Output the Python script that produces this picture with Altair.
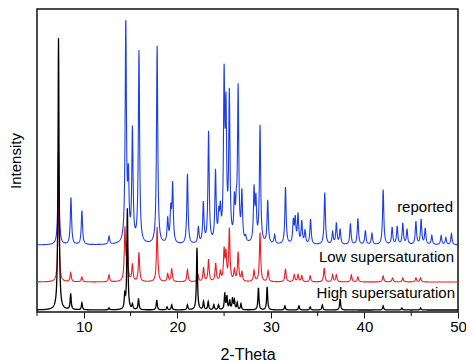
import altair as alt
import numpy as np
import pandas as pd

# Peak positions (2-theta, deg) and heights (arbitrary units)
reported_pos = [7.3, 8.63, 9.8, 12.7, 14.49, 14.77, 15.2, 15.9, 17.84, 18.97, 19.3, 19.5,
                21.08, 22.25, 22.78, 23.34, 24.08, 24.43, 24.6, 25.0, 25.2, 25.56, 26.1, 26.3,
                26.5, 26.9, 27.3, 28.2, 28.4, 28.84, 29.66, 30.4, 31.56, 32.4, 32.6, 32.9,
                33.3, 33.65, 34.24, 35.76, 36.6, 37.0, 37.4, 38.5, 39.3, 40.1, 40.8, 42.0,
                42.96, 43.5, 44.1, 44.55, 45.5, 46.06, 46.5, 47.2, 48.2, 48.7, 49.3]
reported_h = [95, 47, 34, 8, 221, 60, 112, 192, 198, 24, 32, 58,
              70, 16, 40, 111, 70, 24, 28, 158, 122, 145, 38, 26,
              152, 48, 5, 52, 40, 117, 43, 9, 57, 22, 24, 29,
              22, 13, 25, 52, 12, 21, 15, 21, 26, 14, 11, 55,
              17, 18, 21, 15, 23, 25, 16, 9, 9, 7, 11]

low_pos = [7.3, 8.6, 9.8, 12.7, 14.4, 14.65, 15.2, 15.9, 17.84, 18.97, 19.4, 21.08,
           22.2, 22.8, 23.34, 24.1, 24.6, 25.0, 25.2, 25.56, 26.1, 26.5, 26.9, 28.2,
           28.84, 29.7, 31.56, 32.5, 32.9, 33.3, 34.2, 35.7, 36.6, 37.0, 38.6, 39.3,
           42.0, 43.0, 44.1, 45.5, 46.0]
low_h = [90, 9, 5, 7, 52, 36, 17, 29, 55, 8, 13, 12,
         7, 14, 22, 18, 9, 30, 26, 52, 11, 29, 9, 11,
         49, 11, 13, 7, 7, 6, 6, 14, 7, 7, 7, 5,
         6, 4, 4, 4, 4]

high_pos = [7.3, 8.6, 9.8, 12.7, 14.38, 14.66, 15.2, 15.85, 17.8, 18.9, 19.4, 21.08,
            22.1, 22.8, 23.3, 23.9, 24.4, 25.07, 25.3, 25.6, 25.9, 26.1, 26.4, 26.8,
            28.67, 29.6, 31.5, 33.0, 34.2, 35.5, 37.4, 42.0, 44.0, 46.0]
high_h = [272, 16, 7, 2, 13, 101, 5, 11, 10, 3, 5, 5,
          62, 8, 8, 5, 5, 16, 13, 9, 11, 9, 7, 6,
          22, 23, 4, 4, 3, 5, 11, 4, 2, 2]

offsets = {"reported": 67, "Low supersaturation": 30, "High supersaturation": 2}
widths = {"reported": 0.08, "Low supersaturation": 0.08, "High supersaturation": 0.065}
colors = {"reported": "#1e3ee6", "Low supersaturation": "#ea1c24", "High supersaturation": "#000000"}

x_ticks_major = [10, 20, 30, 40, 50]
x_ticks_minor = [5, 15, 25, 35, 45]

grid = np.round(np.arange(5.0, 50.0001, 0.02), 3)


def profile(name, pos, h):
    g = widths[name]
    y = np.zeros_like(grid)
    for p, a in zip(pos, h):
        y += a * g * g / ((grid - p) ** 2 + g * g)
    return pd.DataFrame({"x": grid, "y": y + offsets[name], "series": name})


dfs = {
    "reported": profile("reported", reported_pos, reported_h),
    "Low supersaturation": profile("Low supersaturation", low_pos, low_h),
    "High supersaturation": profile("High supersaturation", high_pos, high_h),
}

W, H = 421, 303
xs = alt.Scale(domain=[5, 50], nice=False, zero=False)
ys = alt.Scale(domain=[0, H], nice=False, zero=False)

FONT = "Liberation Sans, Arial, Helvetica, sans-serif"

layers = []
for i, name in enumerate(["reported", "Low supersaturation", "High supersaturation"]):
    enc = dict(
        x=alt.X("x:Q", scale=xs,
                axis=alt.Axis(values=x_ticks_major, title="2-Theta", grid=False,
                              tickSize=6, tickColor="#111", domain=False,
                              labelFontSize=15, labelFont=FONT, labelColor="#000",
                              labelPadding=1, titleFontSize=16, titleFont=FONT,
                              titleFontWeight="normal", titleColor="#000",
                              titlePadding=12, labelFlush=False)),
        y=alt.Y("y:Q", scale=ys,
                axis=alt.Axis(title="Intensity", labels=False, ticks=False, grid=False,
                              domain=False, titleFontSize=15, titleFont=FONT,
                              titleFontWeight="normal", titleColor="#000",
                              titlePadding=14)),
    )
    layers.append(
        alt.Chart(dfs[name]).mark_line(color=colors[name],
                                       strokeWidth=1.3 if i == 2 else 1.1,
                                       interpolate="linear").encode(**enc)
    )

minor = alt.Chart(pd.DataFrame({"x": x_ticks_minor})).mark_rule(
    color="#111", strokeWidth=1, clip=False
).encode(x=alt.X("x:Q", scale=xs), y=alt.value(H), y2=alt.value(H + 4))

labels = pd.DataFrame({
    "label": ["reported", "Low supersaturation", "High supersaturation"],
})
txt_pos = {"reported": (416, 198), "Low supersaturation": (417, 248),
           "High supersaturation": (418, 284)}
texts = []
for name in labels["label"]:
    px, py = txt_pos[name]
    texts.append(
        alt.Chart(labels[labels["label"] == name]).mark_text(
            align="right", baseline="middle", fontSize=15, font=FONT, color="#000"
        ).encode(text="label:N", x=alt.value(px), y=alt.value(py))
    )

chart = alt.layer(*layers, minor, *texts).properties(
    width=W, height=H,
    autosize=alt.AutoSizeParams(type="none"),
    padding={"left": 29, "top": 1, "right": 8, "bottom": 55},
).configure_view(stroke="#111", strokeWidth=1.5)

chart.save("out.html", embed_options={"renderer": "svg", "actions": False})
